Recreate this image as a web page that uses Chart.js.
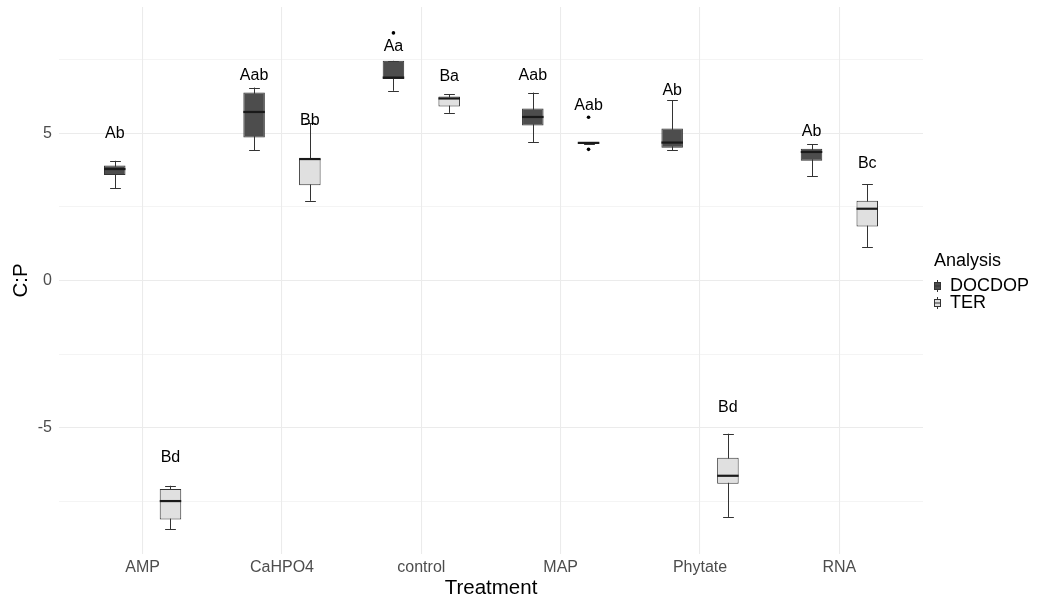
<!DOCTYPE html>
<html>
<head>
<meta charset="utf-8">
<title>C:P by treatment</title>
<script src="https://cdn.jsdelivr.net/npm/chart.js@4/dist/chart.umd.min.js"></script>
<style>
  html, body { margin: 0; padding: 0; background: #ffffff; }
  #wrap { width: 1044px; height: 601px; }
</style>
</head>
<body>
<div id="wrap"><canvas id="chart" width="1044" height="601"></canvas></div>
<script>
// Treatments on the x axis
const categories = ['AMP', 'CaHPO4', 'control', 'MAP', 'Phytate', 'RNA'];
const seriesNames = ['DOCDOP', 'TER'];

// DOCDOP five-number summaries per treatment
const docdopLow    = [3.13, 4.43, 6.45, 4.71, 4.43, 3.55];
const docdopQ1     = [3.59, 4.86, 6.85, 5.27, 4.51, 4.07];
const docdopMedian = [3.79, 5.73, 6.90, 5.56, 4.69, 4.37];
const docdopQ3     = [3.91, 6.39, 7.47, 5.85, 5.17, 4.48];
const docdopHigh   = [4.07, 6.56, 7.47, 6.39, 6.13, 4.64];
const docdopOutliers = [[], [], [8.42], [], [], []];
const docdopLetters  = ['Ab', 'Aab', 'Aa', 'Aab', 'Ab', 'Ab'];
const docdopLetterY  = [4.98, 6.96, 7.97, 6.96, 6.47, 5.05];

// TER five-number summaries per treatment
const terLow    = [-8.46, 2.71, 5.70, 4.64, -8.04, 1.13];
const terQ1     = [-8.13, 3.24, 5.92, 4.64, -6.91, 1.84];
const terMedian = [-7.50, 4.13, 6.19, 4.68, -6.64, 2.44];
const terQ3     = [-7.09, 4.13, 6.26, 4.71, -6.03, 2.71];
const terHigh   = [-6.98, 5.34, 6.34, 4.71, -5.21, 3.27];
const terOutliers = [[], [], [], [5.55, 4.46], [], []];
const terLetters  = ['Bd', 'Bb', 'Ba', 'Aab', 'Bd', 'Bc'];
const terLetterY  = [-6.03, 5.45, 6.95, 5.96, -4.31, 3.96];

// y axis ticks (labelled) and range
const yTickLabels = [-5, 0, 5];
const yRange = [-9.3, 9.3];

const FONT = 'Liberation Sans, Arial, Helvetica, sans-serif';
const fills = ['#4d4d4d', '#e0e0e0'];
const outline = '#333333';

const series = [
  { low: docdopLow, q1: docdopQ1, median: docdopMedian, q3: docdopQ3, high: docdopHigh,
    outliers: docdopOutliers, letters: docdopLetters, letterY: docdopLetterY },
  { low: terLow, q1: terQ1, median: terMedian, q3: terQ3, high: terHigh,
    outliers: terOutliers, letters: terLetters, letterY: terLetterY }
];

// Whiskers, medians, outliers, significance letters and the legend
const boxParts = {
  id: 'boxParts',
  beforeDatasetsDraw(chart) {
    const ctx = chart.ctx;
    const ys = chart.scales.y;
    ctx.save();
    ctx.strokeStyle = outline;
    ctx.lineWidth = 1;
    series.forEach((s, di) => {
      const meta = chart.getDatasetMeta(di);
      meta.data.forEach((bar, i) => {
        const x = Math.round(bar.x) + 0.5;
        const cap = bar.width * 0.5;
        const yLo = ys.getPixelForValue(s.low[i]);
        const yHi = ys.getPixelForValue(s.high[i]);
        ctx.beginPath();
        ctx.moveTo(x, yHi);
        ctx.lineTo(x, yLo);
        ctx.moveTo(x - cap / 2, Math.round(yHi) + 0.5);
        ctx.lineTo(x + cap / 2, Math.round(yHi) + 0.5);
        ctx.moveTo(x - cap / 2, Math.round(yLo) + 0.5);
        ctx.lineTo(x + cap / 2, Math.round(yLo) + 0.5);
        ctx.stroke();
      });
    });
    ctx.restore();
  },
  afterDatasetsDraw(chart) {
    const ctx = chart.ctx;
    const ys = chart.scales.y;
    ctx.save();
    series.forEach((s, di) => {
      const meta = chart.getDatasetMeta(di);
      meta.data.forEach((bar, i) => {
        const half = bar.width / 2;
        // median
        const ym = ys.getPixelForValue(s.median[i]);
        ctx.strokeStyle = '#1a1a1a';
        ctx.lineWidth = 2.2;
        ctx.beginPath();
        ctx.moveTo(bar.x - half, ym);
        ctx.lineTo(bar.x + half, ym);
        ctx.stroke();
        // outliers
        ctx.fillStyle = '#000000';
        s.outliers[i].forEach(v => {
          ctx.beginPath();
          ctx.arc(bar.x, ys.getPixelForValue(v), 1.8, 0, Math.PI * 2);
          ctx.fill();
        });
        // letters
        ctx.font = '16px ' + FONT;
        ctx.textAlign = 'center';
        ctx.textBaseline = 'middle';
        ctx.fillText(s.letters[i], bar.x, ys.getPixelForValue(s.letterY[i]));
      });
    });

    // legend
    ctx.fillStyle = '#000000';
    ctx.textAlign = 'left';
    ctx.textBaseline = 'middle';
    ctx.font = '18px ' + FONT;
    ctx.fillText('Analysis', 934, 261);
    ctx.font = '18px ' + FONT;
    seriesNames.forEach((name, k) => {
      const yc = 286 + k * 17;
      const xc = 937;
      ctx.strokeStyle = outline;
      ctx.lineWidth = 1;
      ctx.beginPath();
      ctx.moveTo(xc + 0.5, yc - 6);
      ctx.lineTo(xc + 0.5, yc + 6);
      ctx.stroke();
      ctx.fillStyle = fills[k];
      ctx.fillRect(xc - 2.5, yc - 3.5, 6, 7);
      ctx.strokeRect(xc - 2.5, yc - 3.5, 6, 7);
      ctx.beginPath();
      ctx.moveTo(xc - 2.5, yc);
      ctx.lineTo(xc + 3.5, yc);
      ctx.stroke();
      ctx.fillStyle = '#000000';
      ctx.fillText(name, 950, yc + 0.5);
    });
    ctx.restore();
  }
};

const datasets = series.map((s, di) => ({
  label: seriesNames[di],
  data: categories.map((c, i) => ({ x: i + 1, y: [s.q1[i], s.q3[i]] })),
  backgroundColor: fills[di],
  borderColor: outline,
  borderWidth: 1,
  borderSkipped: false
}));

new Chart(document.getElementById('chart').getContext('2d'), {
  type: 'bar',
  data: { datasets },
  options: {
    responsive: false,
    animation: false,
    categoryPercentage: 0.8,
    barPercentage: 0.386,
    layout: { padding: { top: 7, right: 121, left: 0, bottom: 0 } },
    plugins: { legend: { display: false }, tooltip: { enabled: false } },
    scales: {
      x: {
        type: 'linear',
        min: 0.4,
        max: 6.6,
        offset: false,
        grid: { color: '#ebebeb', lineWidth: 1.07, drawTicks: false, offset: false },
        border: { display: false },
        ticks: {
          stepSize: 1,
          includeBounds: false,
          autoSkip: false,
          maxRotation: 0,
          padding: 4,
          color: '#4d4d4d',
          font: { family: FONT, size: 16 },
          callback: v => Number.isInteger(v) ? categories[v - 1] : ''
        },
        title: {
          display: true, text: 'Treatment', color: '#000000',
          font: { family: FONT, size: 20.5 }, padding: { top: 0, bottom: 0.5 }
        },
        afterFit(scale) {
          scale.height = 47;
          scale.paddingLeft = 0;
          scale.paddingRight = 0;
        }
      },
      y: {
        min: yRange[0],
        max: yRange[1],
        grid: {
          color: '#ebebeb',
          drawTicks: false,
          lineWidth: c => (c.tick && yTickLabels.includes(c.tick.value)) ? 1.07 : 0.55
        },
        border: { display: false },
        ticks: {
          stepSize: 2.5,
          includeBounds: false,
          padding: 7,
          color: '#4d4d4d',
          font: { family: FONT, size: 16 },
          callback: v => yTickLabels.includes(v) ? String(v) : ''
        },
        title: {
          display: true, text: 'C:P', color: '#000000',
          font: { family: FONT, size: 20.5 }, padding: { top: 9, bottom: 0 }
        },
        afterFit(scale) {
          scale.width = 59;
          scale.paddingTop = 0;
          scale.paddingBottom = 0;
        }
      }
    }
  },
  plugins: [boxParts]
});
</script>
</body>
</html>
